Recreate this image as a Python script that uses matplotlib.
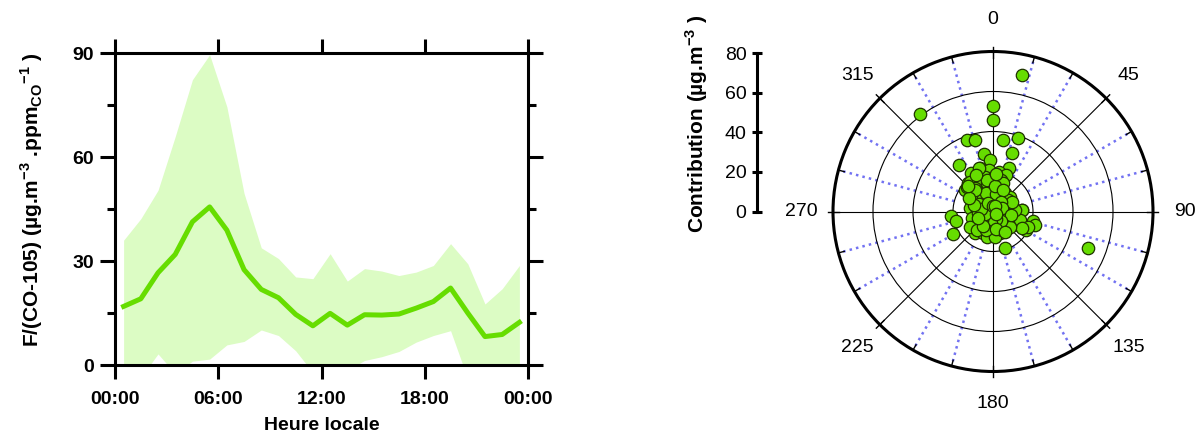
import numpy as np
import matplotlib
matplotlib.use("Agg")
import matplotlib.pyplot as plt

# --- fonts ---
plt.rcParams['font.family'] = ['Liberation Sans', 'DejaVu Sans']
plt.rcParams['mathtext.fontset'] = 'custom'
plt.rcParams['mathtext.rm'] = 'Liberation Sans'
plt.rcParams['mathtext.bf'] = 'Liberation Sans:bold'

# --- daily profile (left panel) ---
hours = [0.5, 1.5, 2.5, 3.5, 4.5, 5.5, 6.5, 7.5, 8.5, 9.5, 10.5, 11.5,
         12.5, 13.5, 14.5, 15.5, 16.5, 17.5, 18.5, 19.5, 20.5, 21.5, 22.5, 23.5]
mean_vals = [16.9, 19.1, 26.6, 31.9, 41.3, 45.6, 38.9, 27.5, 21.8, 19.4, 14.6, 11.3,
             14.9, 11.5, 14.5, 14.4, 14.7, 16.4, 18.3, 22.2, 15.0, 8.2, 8.8, 12.3]
upper_vals = [36.0, 42.2, 50.4, 65.9, 82.3, 89.5, 74.5, 49.5, 33.8, 30.7, 25.4, 24.9,
              32.1, 24.2, 27.8, 27.1, 25.8, 26.8, 28.7, 35.0, 29.2, 17.6, 22.0, 28.7]
lower_vals = [-8.0, -3.6, 3.2, -2.5, 1.1, 1.7, 5.8, 6.8, 10.1, 8.5, 4.1, -2.2,
              -4.0, -1.5, 1.3, 2.4, 3.9, 6.6, 8.5, 9.9, -4.0, -6.0, -5.0, -4.0]
hour_ticks = [0, 6, 12, 18, 24]
hour_labels = ["00:00", "06:00", "12:00", "18:00", "00:00"]

# --- wind direction / contribution (polar panel) ---
direction = [12, 323, 0, 0, 340, 346, 8, 19, 18, 351, 357, 324, 20, 111, 162, 264,
             256, 241, 104, 108, 119, 88, 112, 124,
             330, 343, 355, 8, 19, 319, 334, 347, 1, 15, 322, 337, 353, 16, 308, 311,
             325, 344, 13, 33, 49, 298, 315, 345, 28, 50, 81, 87, 278, 275, 292, 261,
             127, 98, 252, 237, 202, 168, 130, 124, 108, 113, 232, 211, 189, 220, 204,
             179, 162, 138, 120,
             342, 322, 313, 307, 237, 221, 194, 176, 355, 28, 53, 12, 307, 263, 117,
             91, 86, 210, 135, 125, 214, 179, 155, 132, 334, 348, 4, 20, 322, 14, 324,
             294, 58, 62,
             340, 10, 300, 320, 350, 5, 25, 40, 70, 100, 140, 160, 190, 230, 250,
             280, 290, 330, 0, 20, 120, 200, 170, 150, 215, 245, 300, 315, 335, 5]
contribution = [70, 61, 53, 46, 38, 37, 36, 39, 31, 29, 26, 29, 23, 51, 19, 21,
                19, 23, 20.5, 22, 19, 14.4, 14.6, 12,
                22.1, 22.6, 20.8, 20.1, 19.3, 18.7, 18.5, 17.9, 17.4, 16.3, 15.8, 14.4,
                12.5, 12.9, 17.7, 14.0, 11.2, 8.6, 8.5, 10.9, 11.3, 12.1, 9.3, 5.9, 5.6,
                8.9, 10.3, 14.4, 11.6, 8.2, 4.3, 0.7, 4.4, 6.9, 11.2, 7.8, 6.4, 8.6, 7.9,
                12.2, 14.2, 19.2, 12.4, 10.8, 9.4, 14.1, 11.9, 11.75, 11.4, 11.4, 16.6,
                22.7, 18.8, 17.9, 12.3, 13.8, 12.3, 13, 12.9, 7.4, 7.5, 9.6, 5, 4, 7.4,
                3.9, 7.65, 11, 3, 3.7, 7.4, 7.1, 7.6, 10.2, 11.4, 16.6, 14.7, 14.9, 15.3,
                14.7, 11.1, 8.2, 8, 6.1, 10.6,
                10, 9, 8, 14, 16, 13, 12, 6, 5, 9, 6, 4, 6, 7, 4,
                6, 10, 5, 3, 3, 2, 10, 9, 12, 9, 8, 14, 18, 20, 19]
compass_angles = [0, 45, 90, 135, 180, 225, 270, 315]
radial_ticks = [0, 20, 40, 60, 80]

W, H = 1198, 437
fig = plt.figure(figsize=(W / 100, H / 100), dpi=100)

# ================= left panel =================
ax = fig.add_axes([115 / W, 72 / H, 413 / W, 312 / H])
ax.fill_between(hours, lower_vals, upper_vals, color="#dcfcc4", lw=0)
ax.plot(hours, mean_vals, color="#66dd00", lw=3.6)
ax.set_xlim(0, 24)
ax.set_ylim(0, 90)
for s in ax.spines.values():
    s.set_linewidth(2.2)
ax.set_xticks(hour_ticks)
ax.set_xticklabels(hour_labels, fontsize=14, fontweight="bold")
ax.set_yticks([0, 30, 60, 90])
ax.set_yticklabels(["0", "30", "60", "90"], fontsize=14, fontweight="bold")
ax.set_yticks([15, 45, 75], minor=True)
ax.tick_params(axis="x", which="major", direction="out", length=10, width=2.2,
               top=True, pad=9)
ax.tick_params(axis="y", which="major", direction="out", length=11, width=2.2,
               right=True, pad=4)
ax.tick_params(axis="y", which="minor", direction="out", length=5.5, width=2.2,
               right=True)
ax.set_xlabel("Heure locale", fontsize=14, fontweight="bold", labelpad=6)
fig.text(32 / W, 1 - 200 / H,
         r"F/(CO-105) (µg.m$^{\mathbf{-3}}$ .ppm$_{\mathbf{CO}}$$^{\mathbf{-1}}$ )",
         rotation=90, ha="center", va="center", fontsize=15, fontweight="bold")

# ================= polar panel =================
pax = fig.add_axes([833 / W, (H - 371.5) / H, 320 / W, 320 / H], projection="polar")
pax.set_theta_zero_location("N")
pax.set_theta_direction(-1)
pax.set_ylim(0, 80)
pax.set_xticks(np.deg2rad(compass_angles))
pax.set_xticklabels([])
pax.set_yticks([20, 40, 60])
pax.set_yticklabels([])
pax.grid(True, color="black", lw=0.8)
pax.spines["polar"].set_linewidth(2.2)
pax.tick_params(length=0)

for a in range(15, 360, 15):
    th = np.deg2rad(a)
    if a % 45:
        pax.plot([th, th], [20, 80], color="#7272f2", ls=":", lw=1.8, zorder=1)
    outer = 82.5 if a % 45 == 0 else 80
    pax.plot([th, th], [77, outer], color="black", lw=1.0, clip_on=False, zorder=3)
pax.plot([0, 0], [77, 82.5], color="black", lw=1.0, clip_on=False, zorder=3)

for a in compass_angles:
    pax.text(np.deg2rad(a), 96, str(a), ha="center", va="center", fontsize=14)

pax.scatter(np.deg2rad(direction), contribution, s=80, c="#66dd00",
            edgecolors="#1f3300", linewidths=0.9, zorder=5, clip_on=False)

# radial scale bar
sax = fig.add_axes([757 / W, (H - 211.5) / H, 0.001, 158.5 / H])
sax.patch.set_visible(False)
sax.set_ylim(0, 80)
for k in ["right", "top", "bottom"]:
    sax.spines[k].set_visible(False)
sax.spines["left"].set_linewidth(2.2)
sax.set_xticks([])
sax.set_yticks(radial_ticks)
sax.set_yticklabels([str(v) for v in radial_ticks], fontsize=14)
sax.tick_params(axis="y", direction="inout", length=7, width=2.2, pad=4)
fig.text(697 / W, 1 - 124 / H, r"Contribution (µg.m$^{\mathbf{-3}}$ )",
         rotation=90, ha="center", va="center", fontsize=15, fontweight="bold")

fig.savefig("out.png", dpi=100)
